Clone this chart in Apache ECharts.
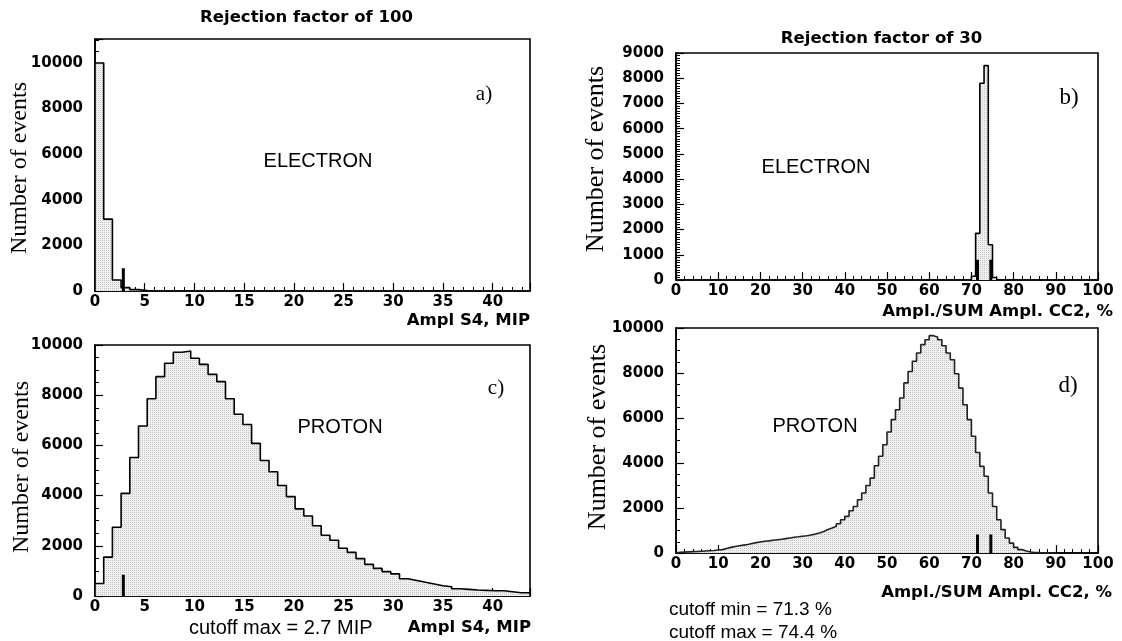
<!DOCTYPE html>
<html>
<head>
<meta charset="utf-8">
<script src="https://cdn.jsdelivr.net/npm/echarts@6/dist/echarts.min.js"></script>
<style>
  html, body { margin: 0; padding: 0; background: #fff; }
  #main { width: 1122px; height: 641px; }
</style>
</head>
<body>
<div id="main"></div>
<script>
// bins: S4 has 50 bins over 0..43.75 MIP, CC2 has 1 % bins
var s4Width = 0.875;
var cc2Width = 1;

// a) electrons, Ampl S4 (bins after these are empty)
var electronS4 = [10000, 3150, 480, 150, 60, 20];

// c) protons, Ampl S4
var protonS4 = [500, 1550, 2740, 4090, 5520, 6770, 7860, 8740, 9270, 9710,
  9760, 9470, 9230, 8830, 8540, 7860, 7240, 6830, 6080, 5400,
  4950, 4400, 3960, 3470, 3190, 2800, 2420, 2220, 1900, 1740,
  1490, 1260, 1100, 970, 880, 690, 620, 545, 480, 410,
  370, 290, 265, 240, 225, 210, 210, 170, 130, 130];

// b) electrons, CC2 ratio, first bin starts at 70 %
var electronCC2Start = 70;
var electronCC2 = [150, 1850, 7800, 8500, 1400, 100];

// d) protons, CC2 ratio, from 0 %
var protonCC2 = [30, 40, 50, 60, 70, 80, 90, 100, 110, 130,
  150, 200, 250, 290, 320, 350, 380, 420, 460, 490,
  520, 540, 570, 590, 610, 640, 670, 700, 720, 745,
  770, 800, 840, 890, 960, 1040, 1110, 1190, 1300, 1480,
  1630, 1880, 2070, 2370, 2670, 3000, 3330, 3880, 4300, 4810,
  5380, 5930, 6370, 6890, 7560, 8070, 8520, 8890, 9260, 9480,
  9660, 9600, 9480, 9210, 8890, 8590, 7970, 7330, 6590, 5930,
  5190, 4470, 3850, 3410, 2670, 2070, 1480, 1040, 670, 440,
  250, 150, 90, 45, 25, 15, 8, 5, 0, 0];

// cut markers (position, height)
var cutS4 = 2.85;
var cutS4HeightE = 1000, cutS4HeightP = 850;
var cutCC2 = [71.45, 74.6];
var cutCC2HeightE = 800, cutCC2HeightP = 820;

function stepPoints(vals, start, w) {
  var pts = [[start, 0]];
  vals.forEach(function (v, i) {
    pts.push([start + i * w, v], [start + (i + 1) * w, v]);
  });
  pts.push([start + vals.length * w, 0]);
  return pts;
}

// dotted grey fill like the original histograms
var pat = document.createElement('canvas');
pat.width = 2; pat.height = 2;
var pctx = pat.getContext('2d');
pctx.fillStyle = '#f0f0f0'; pctx.fillRect(0, 0, 2, 2);
pctx.fillStyle = '#c6c6c6'; pctx.fillRect(0, 0, 1, 1);
var fill = { image: pat, repeat: 'repeat' };

var labelFont = { fontFamily: 'DejaVu Sans', fontWeight: 'bold', fontSize: 15, color: '#000' };

function xAx(gi, max, interval, minor) {
  return {
    type: 'value', gridIndex: gi, min: 0, max: max, interval: interval,
    axisLine: { show: true, onZero: false, lineStyle: { color: '#000', width: 1.5 } },
    axisTick: { show: true, inside: true, length: 8, lineStyle: { color: '#000', width: 1.2 } },
    minorTick: { show: true, splitNumber: minor, length: 4, lineStyle: { color: '#000', width: 1 } },
    splitLine: { show: false },
    axisLabel: Object.assign({ margin: 4, showMaxLabel: max % interval === 0,
      formatter: function (v) { return String(v); } }, labelFont)
  };
}

function yAx(gi, max, interval, minor) {
  return {
    type: 'value', gridIndex: gi, min: 0, max: max, interval: interval,
    axisLine: { show: true, onZero: false, lineStyle: { color: '#000', width: 1.5 } },
    axisTick: { show: true, inside: true, length: 8, lineStyle: { color: '#000', width: 1.2 } },
    minorTick: { show: true, splitNumber: minor, length: 4, lineStyle: { color: '#000', width: 1 } },
    splitLine: { show: false },
    axisLabel: Object.assign({ margin: 12, showMaxLabel: max % interval === 0,
      formatter: function (v) { return String(v); } }, labelFont)
  };
}

function hist(gi, pts, color) {
  return {
    type: 'line', xAxisIndex: gi, yAxisIndex: gi, data: pts,
    symbol: 'none', silent: true, animation: false,
    lineStyle: { color: color, width: 1.6 },
    areaStyle: { color: fill, opacity: 1 }
  };
}

function marker(gi, x, h) {
  return {
    type: 'line', xAxisIndex: gi, yAxisIndex: gi, data: [[x, 0], [x, h]],
    symbol: 'none', silent: true, animation: false,
    lineStyle: { color: '#000', width: 3 }, z: 3
  };
}

function txt(x, y, s, font, align, rot) {
  return {
    type: 'text', x: x, y: y, rotation: rot || 0, silent: true,
    style: { text: s, font: font, fill: '#000',
      align: align || 'center', verticalAlign: 'middle',
      textAlign: align || 'center', textVerticalAlign: 'middle' }
  };
}

var boldF = 'bold 16.5px "DejaVu Sans"';
var plainF = '20px "Liberation Sans"';

var chart = echarts.init(document.getElementById('main'), null, { renderer: 'canvas' });
chart.setOption({
  animation: false,
  grid: [
    { left: 95, top: 39, width: 435, height: 252, show: true, borderColor: '#000', borderWidth: 1.6 },
    { left: 676, top: 53, width: 422, height: 227, show: true, borderColor: '#000', borderWidth: 1.6 },
    { left: 95, top: 345, width: 435, height: 251, show: true, borderColor: '#000', borderWidth: 1.6 },
    { left: 676, top: 328, width: 422, height: 225, show: true, borderColor: '#000', borderWidth: 1.6 }
  ],
  xAxis: [
    xAx(0, 43.75, 5, 5),
    xAx(1, 100, 10, 5),
    xAx(2, 43.75, 5, 5),
    xAx(3, 100, 10, 5)
  ],
  yAxis: [
    yAx(0, 11050, 2000, 4),
    yAx(1, 9000, 1000, 10),
    yAx(2, 10000, 2000, 4),
    yAx(3, 10000, 2000, 4)
  ],
  series: [
    hist(0, stepPoints(electronS4, 0, s4Width), '#000'),
    marker(0, cutS4, cutS4HeightE),
    hist(1, stepPoints(electronCC2, electronCC2Start, cc2Width), '#000'),
    marker(1, cutCC2[0], cutCC2HeightE),
    marker(1, cutCC2[1], cutCC2HeightE),
    hist(2, stepPoints(protonS4, 0, s4Width), '#000'),
    marker(2, cutS4, cutS4HeightP),
    hist(3, stepPoints(protonCC2, 0, cc2Width), '#222'),
    marker(3, cutCC2[0], cutCC2HeightP),
    marker(3, cutCC2[1], cutCC2HeightP)
  ],
  graphic: [
    txt(306.5, 18, 'Rejection factor of 100', boldF),
    txt(881.5, 39, 'Rejection factor of 30', boldF),
    txt(20, 168, 'Number of events', '24px "Liberation Serif"', 'center', Math.PI / 2),
    txt(22, 467, 'Number of events', '24px "Liberation Serif"', 'center', Math.PI / 2),
    txt(596, 159, 'Number of events', '26px "Liberation Serif"', 'center', Math.PI / 2),
    txt(598, 437, 'Number of events', '26px "Liberation Serif"', 'center', Math.PI / 2),
    txt(318, 161, 'ELECTRON', plainF),
    txt(816, 167, 'ELECTRON', plainF),
    txt(340, 427, 'PROTON', plainF),
    txt(815, 426, 'PROTON', plainF),
    txt(484, 94, 'a)', '21px "Liberation Serif"'),
    txt(1069, 98, 'b)', '23px "Liberation Serif"'),
    txt(496, 388, 'c)', '21px "Liberation Serif"'),
    txt(1068, 386, 'd)', '23px "Liberation Serif"'),
    txt(530, 321, 'Ampl S4, MIP', boldF, 'right'),
    txt(531, 628, 'Ampl S4, MIP', boldF, 'right'),
    txt(1113, 311.5, 'Ampl./SUM Ampl. CC2, %', boldF, 'right'),
    txt(1112, 592.5, 'Ampl./SUM Ampl. CC2, %', boldF, 'right'),
    txt(189, 628, 'cutoff max = 2.7 MIP', plainF, 'left'),
    txt(669, 610, 'cutoff min = 71.3 %', '19px "Liberation Sans"', 'left'),
    txt(669, 633, 'cutoff max = 74.4 %', '19px "Liberation Sans"', 'left')
  ]
});
</script>
</body>
</html>
